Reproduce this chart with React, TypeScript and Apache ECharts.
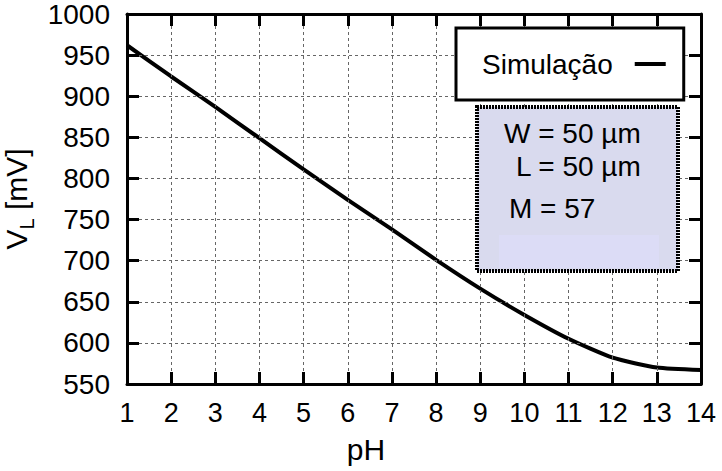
import React, { useEffect, useRef } from "react";
import * as echarts from "echarts";

const phValues = [1, 2, 3, 4, 5, 6, 7, 8, 9, 10, 11, 12, 13, 14];
const vlValues = [962, 924, 887, 849, 811, 774, 738, 701, 666, 634, 605, 582, 570, 567];
const seriesName = "Simulação";
const infoLines = ["W = 50 µm", "L = 50 µm", "M = 57"];

const FONT = "'Liberation Sans', Arial, Helvetica, sans-serif";

const frameLine = () => ({ show: true, onZero: false, lineStyle: { color: "#000", width: 3 } });
const tick = () => ({ show: true, inside: true, length: 12, lineStyle: { color: "#000", width: 3, opacity: 1 } });

export default function App() {
  const ref = useRef<HTMLDivElement>(null);
  useEffect(() => {
    if (!ref.current) return;
    const chart = echarts.init(ref.current, undefined, { renderer: "svg" });
    const split = { show: true, lineStyle: { color: "#666", width: 1, type: [3, 3] } };
    chart.setOption({
      animation: false,
      backgroundColor: "#fff",
      textStyle: { fontFamily: FONT },
      grid: { left: 127, top: 14, width: 574, height: 370, containLabel: false, outerBoundsMode: "none" },
      legend: {
        show: true,
        z: 20,
        left: 456,
        top: 28,
        padding: [20, 18, 20, 26],
        align: "right",
        backgroundColor: "#fff",
        borderColor: "#000",
        borderWidth: 3,
        borderRadius: 0,
        itemWidth: 31,
        itemHeight: 4,
        icon: "rect",
        selectedMode: false,
        textStyle: { fontSize: 28, fontFamily: FONT, color: "#000", lineHeight: 32, padding: [0, 17, 0, 0] },
        data: [seriesName],
      },
      xAxis: [
        {
          type: "value",
          min: 1,
          max: 14,
          interval: 1,
          position: "bottom",
          axisLine: frameLine(),
          axisTick: tick(),
          splitLine: split,
          axisLabel: { fontSize: 27, color: "#000", margin: 15, fontFamily: FONT },
          name: "pH",
          nameLocation: "middle",
          nameGap: 50,
          nameTextStyle: { fontSize: 30, color: "#000", fontFamily: FONT, padding: [0, 96, 0, 0] },
          z: 5,
        },
        {
          type: "value",
          min: 1,
          max: 14,
          interval: 1,
          position: "top",
          axisLine: frameLine(),
          axisTick: tick(),
          splitLine: { show: false },
          axisLabel: { show: false },
          z: 5,
        },
      ],
      yAxis: [
        {
          type: "value",
          min: 550,
          max: 1000,
          interval: 50,
          position: "left",
          axisLine: frameLine(),
          axisTick: tick(),
          splitLine: split,
          axisLabel: { fontSize: 28, color: "#000", margin: 17, fontFamily: FONT, formatter: (v: number) => String(v) },
          name: "{m|V}{s|L}{m| [mV]}",
          nameLocation: "middle",
          nameGap: 82,
          nameRotate: 90,
          nameTextStyle: {
            fontFamily: FONT,
            color: "#000",
            rich: {
              m: { fontSize: 30, fontFamily: FONT, color: "#000", lineHeight: 40, verticalAlign: "middle" },
              s: { fontSize: 20, fontFamily: FONT, color: "#000", lineHeight: 40, verticalAlign: "bottom" },
            },
          },
          z: 5,
        },
        {
          type: "value",
          min: 550,
          max: 1000,
          interval: 50,
          position: "right",
          axisLine: frameLine(),
          axisTick: tick(),
          splitLine: { show: false },
          axisLabel: { show: false },
          z: 5,
        },
      ],
      series: [
        {
          name: seriesName,
          type: "line",
          xAxisIndex: 0,
          yAxisIndex: 0,
          data: phValues.map((p, i) => [p, vlValues[i]]),
          showSymbol: false,
          symbol: "none",
          smooth: 0.2,
          lineStyle: { color: "#000", width: 4 },
          itemStyle: { color: "#000" },
          z: 3,
        },
      ],
      graphic: [
        {
          type: "rect",
          shape: { x: 477, y: 107, width: 201, height: 164 },
          style: { fill: "#d9daee", stroke: "#000", lineWidth: 4, lineDash: [2, 1] },
          z: 100,
        },
        {
          type: "rect",
          shape: { x: 499, y: 235, width: 160, height: 33 },
          style: { fill: "#dcdcf6" },
          z: 101,
        },
        {
          type: "text",
          x: 504,
          y: 133,
          style: { text: infoLines[0], fontSize: 28, fontFamily: FONT, fill: "#000", verticalAlign: "middle", align: "left" },
          z: 102,
        },
        {
          type: "text",
          x: 516,
          y: 166,
          style: { text: infoLines[1], fontSize: 28, fontFamily: FONT, fill: "#000", verticalAlign: "middle", align: "left" },
          z: 102,
        },
        {
          type: "text",
          x: 509,
          y: 208,
          style: { text: infoLines[2], fontSize: 28, fontFamily: FONT, fill: "#000", verticalAlign: "middle", align: "left" },
          z: 102,
        },
      ],
    });
    return () => chart.dispose();
  }, []);
  return (
    <div
      ref={ref}
      style={{ position: "fixed", left: 0, top: 0, width: 722, height: 471 }}
    />
  );
}
